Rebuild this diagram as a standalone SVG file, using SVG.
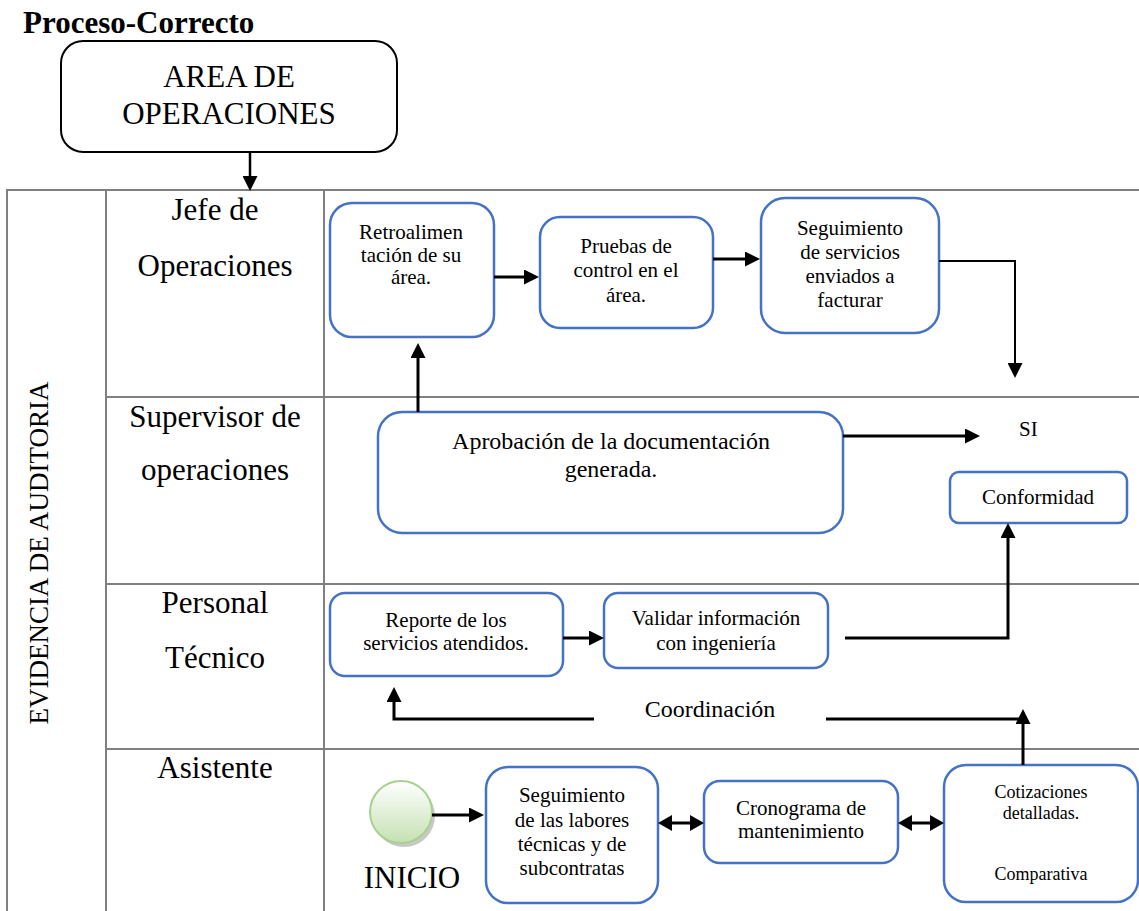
<svg xmlns="http://www.w3.org/2000/svg" width="1139" height="911" viewBox="0 0 1139 911">
<style>
text{font-family:"Liberation Serif","Times New Roman",serif;fill:#000}
.grid{stroke:#808080;stroke-width:2;fill:none}
.box{fill:#fff;stroke:#4472C4;stroke-width:2.5}
.lane{font-size:31px;text-anchor:middle}
.n21{font-size:21px;text-anchor:middle}
.n24{font-size:24px;text-anchor:middle}
.c{fill:none;stroke:#000;stroke-width:3}
.c2{fill:none;stroke:#000;stroke-width:2}
</style>
<defs>
<marker id="ah" viewBox="0 0 10 10" refX="0" refY="5" markerWidth="15" markerHeight="15" markerUnits="userSpaceOnUse" orient="auto-start-reverse"><path d="M0,0 L10,5 L0,10 z" fill="#000"/></marker>
<marker id="ahs" viewBox="0 0 10 10" refX="0" refY="5" markerWidth="14" markerHeight="16" markerUnits="userSpaceOnUse" orient="auto-start-reverse" preserveAspectRatio="none"><path d="M0,0 L10,5 L0,10 z" fill="#000"/></marker>
<linearGradient id="gr" x1="0" y1="0" x2="0" y2="1"><stop offset="0" stop-color="#ffffff"/><stop offset="1" stop-color="#c5e0b3"/></linearGradient>
</defs>
<rect width="1139" height="911" fill="#fff"/>

<text x="23" y="33" style="font-size:31px;font-weight:bold">Proceso-Correcto</text>

<g id="area">
<rect x="61" y="41" width="336" height="111" rx="22" fill="#fff" stroke="#000" stroke-width="2"/>
<text x="229" y="87" style="font-size:31px;text-anchor:middle">AREA DE</text>
<text x="229" y="124" style="font-size:31px;text-anchor:middle">OPERACIONES</text>
</g>

<g id="grid">
<line class="grid" x1="7" y1="190" x2="1139" y2="190"/>
<line class="grid" x1="7" y1="189" x2="7" y2="911"/>
<line class="grid" x1="106" y1="190" x2="106" y2="911"/>
<line class="grid" x1="324" y1="190" x2="324" y2="911"/>
<line class="grid" x1="106" y1="397" x2="1139" y2="397"/>
<line class="grid" x1="106" y1="584" x2="1139" y2="584"/>
<line class="grid" x1="106" y1="749" x2="1139" y2="749"/>
<text transform="translate(48,553) rotate(-90)" style="font-size:27px;text-anchor:middle">EVIDENCIA DE AUDITORIA</text>
<text class="lane" x="215" y="220">Jefe de</text>
<text class="lane" x="215" y="276">Operaciones</text>
<text class="lane" x="215" y="427">Supervisor de</text>
<text class="lane" x="215" y="480">operaciones</text>
<text class="lane" x="215" y="613">Personal</text>
<text class="lane" x="215" y="668">Técnico</text>
<text class="lane" x="215" y="778">Asistente</text>
</g>

<g id="retro">
<rect class="box" x="330" y="203" width="164" height="134" rx="22"/>
<text class="n21" x="411" y="239">Retroalimen</text>
<text class="n21" x="411" y="262">tación de su</text>
<text class="n21" x="411" y="284">área.</text>
</g>
<g id="pruebas">
<rect class="box" x="540" y="217" width="173" height="111" rx="20"/>
<text class="n21" x="626" y="253">Pruebas de</text>
<text class="n21" x="626" y="277">control en el</text>
<text class="n21" x="626" y="302">área.</text>
</g>
<g id="seguimiento-servicios">
<rect class="box" x="761" y="198" width="178" height="135" rx="24"/>
<text class="n21" x="850" y="235">Seguimiento</text>
<text class="n21" x="850" y="259">de servicios</text>
<text class="n21" x="850" y="283">enviados a</text>
<text class="n21" x="850" y="307">facturar</text>
</g>
<g id="aprobacion">
<rect class="box" x="378" y="412" width="465" height="121" rx="24"/>
<text class="n24" x="611" y="449">Aprobación de la documentación</text>
<text class="n24" x="611" y="477">generada.</text>
</g>
<g id="si">
<text x="1019" y="436" style="font-size:21px">SI</text>
</g>
<g id="conformidad">
<rect class="box" x="950" y="472" width="177" height="51" rx="9"/>
<text class="n21" x="1038" y="504">Conformidad</text>
</g>
<g id="reporte">
<rect class="box" x="330" y="593" width="233" height="83" rx="15"/>
<text class="n21" x="446" y="627">Reporte de los</text>
<text class="n21" x="446" y="650">servicios atendidos.</text>
</g>
<g id="validar">
<rect class="box" x="604" y="593" width="224" height="75" rx="14"/>
<text class="n21" x="716" y="625">Validar información</text>
<text class="n21" x="716" y="650">con ingeniería</text>
</g>
<g id="coordinacion">
<text class="n24" x="710" y="717">Coordinación</text>
</g>
<g id="inicio">
<circle cx="404" cy="816" r="31" fill="#9a9a9a" opacity="0.55"/>
<circle cx="401" cy="812" r="31" fill="url(#gr)" stroke="#a9d18e" stroke-width="2"/>
<text x="412" y="888" style="font-size:31px;text-anchor:middle">INICIO</text>
</g>
<g id="seguimiento-labores">
<rect class="box" x="486" y="767" width="172" height="136" rx="22"/>
<text class="n21" x="572" y="802">Seguimiento</text>
<text class="n21" x="572" y="827">de las labores</text>
<text class="n21" x="572" y="851">técnicas y de</text>
<text class="n21" x="572" y="875">subcontratas</text>
</g>
<g id="cronograma">
<rect class="box" x="704" y="781" width="194" height="82" rx="16"/>
<text class="n21" x="801" y="815">Cronograma de</text>
<text class="n21" x="801" y="838">mantenimiento</text>
</g>
<g id="cotizaciones">
<rect class="box" x="944" y="765" width="194" height="137" rx="22"/>
<text x="1041" y="798" style="font-size:18px;text-anchor:middle">Cotizaciones</text>
<text x="1041" y="819" style="font-size:18px;text-anchor:middle">detalladas.</text>
<text x="1041" y="880" style="font-size:18px;text-anchor:middle">Comparativa</text>
</g>

<g id="connectors">
<line class="c2" x1="250" y1="152" x2="250" y2="176" marker-end="url(#ah)" style="stroke-width:2.5"/>
<line class="c" x1="418" y1="412" x2="418" y2="358" marker-end="url(#ah)"/>
<line class="c" x1="494" y1="277" x2="524" y2="277" marker-end="url(#ah)"/>
<line class="c" x1="713" y1="259" x2="745" y2="259" marker-end="url(#ah)"/>
<path class="c2" d="M939,261 H1015 V363" marker-end="url(#ah)"/>
<line class="c" x1="843" y1="436" x2="965" y2="436" marker-end="url(#ah)"/>
<path class="c" d="M845,638 H1008 V538" marker-end="url(#ah)"/>
<line class="c" x1="563" y1="638" x2="589" y2="638" marker-end="url(#ah)"/>
<path class="c" d="M594,719 H394 V702" marker-end="url(#ah)"/>
<line class="c" x1="826" y1="719" x2="1023" y2="719"/>
<line class="c" x1="1023" y1="765" x2="1023" y2="724" marker-end="url(#ah)"/>
<line class="c" x1="432" y1="815" x2="469" y2="815" marker-end="url(#ah)"/>
<line class="c" x1="672" y1="823" x2="690" y2="823" marker-start="url(#ahs)" marker-end="url(#ahs)"/>
<line class="c" x1="912" y1="823" x2="930" y2="823" marker-start="url(#ahs)" marker-end="url(#ahs)"/>
</g>
</svg>
